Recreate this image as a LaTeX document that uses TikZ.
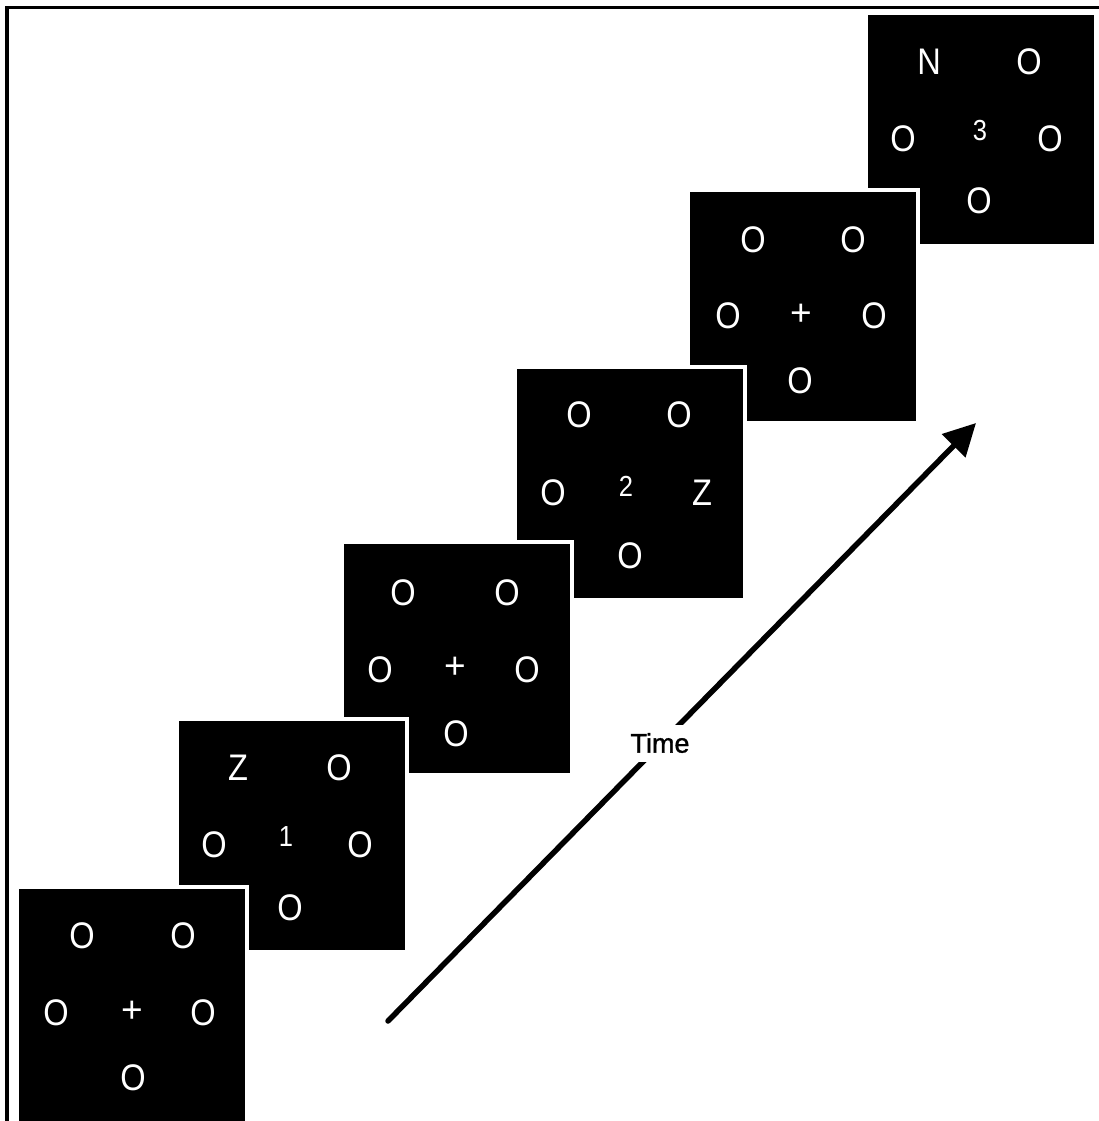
\documentclass[tikz,border=0pt]{standalone}
\usepackage{fontspec}
\setmainfont{Liberation Sans}
\newfontfamily\narrowsans[FakeStretch=0.88]{Liberation Sans}
\newfontfamily\boldishsans[FakeBold=1.2]{Liberation Sans}
\usetikzlibrary{arrows.meta}
\tikzset{
  panel/.style={fill=black, draw=white, line width=4pt, minimum width=230pt, minimum height=233pt,
    anchor=north west, inner sep=0pt, outer sep=0pt},
  letter/.style={text=white, font=\narrowsans\fontsize{37}{37}\selectfont, inner sep=0pt},
  plus/.style={text=white, font=\fontsize{37}{37}\selectfont, inner sep=0pt},
  digit/.style={text=white, font=\narrowsans\fontsize{29}{29}\selectfont, inner sep=0pt},
  timearrow/.style={line width=5.5pt, line cap=round, -{Triangle[length=32pt,width=32pt]}},
  timelabel/.style={fill=white, font=\boldishsans\fontsize{27}{27}\selectfont, minimum height=37pt, inner xsep=3pt, inner ysep=0pt},
  frameline/.style={line width=3.5pt}
}
\begin{document}
\begin{tikzpicture}[x=1pt,y=-1pt]
\useasboundingbox (0,0) rectangle (1099,1121);
% frame
\coordinate (fbl) at (7,1125);
\coordinate (ftl) at (7,7.5);
\coordinate (ftr) at (1099,7.5);
\draw[frameline] (fbl) -- (ftl) -- (ftr);

% panel 6
\node[panel] (p6) at (866,13) {};
\node[letter] (p6tl) at (929,62) {N};
\node[letter] (p6tr) at (1029,62) {O};
\node[letter] (p6l) at (903,139) {O};
\node[digit] (p6c) at (980,131) {3};
\node[letter] (p6r) at (1050,139) {O};
\node[letter] (p6b) at (979,201) {O};

% panel 5
\node[panel] (p5) at (688,190) {};
\node[letter] (p5tl) at (753,240) {O};
\node[letter] (p5tr) at (853,240) {O};
\node[letter] (p5l) at (728,316) {O};
\node[plus] (p5c) at (801,315) {+};
\node[letter] (p5r) at (874,316) {O};
\node[letter] (p5b) at (800,381) {O};

% panel 4
\node[panel] (p4) at (515,367) {};
\node[letter] (p4tl) at (579,415) {O};
\node[letter] (p4tr) at (679,415) {O};
\node[letter] (p4l) at (553,493) {O};
\node[digit] (p4c) at (626,486) {2};
\node[letter] (p4r) at (702,493) {Z};
\node[letter] (p4b) at (630,556) {O};

% panel 3
\node[panel] (p3) at (342,542) {};
\node[letter] (p3tl) at (403,593) {O};
\node[letter] (p3tr) at (507,593) {O};
\node[letter] (p3l) at (380,670) {O};
\node[plus] (p3c) at (455,668) {+};
\node[letter] (p3r) at (527,670) {O};
\node[letter] (p3b) at (456,734) {O};

% panel 2
\node[panel] (p2) at (177,719) {};
\node[letter] (p2tl) at (238,768) {Z};
\node[letter] (p2tr) at (339,768) {O};
\node[letter] (p2l) at (214,845) {O};
\node[digit] (p2c) at (286,837) {1};
\node[letter] (p2r) at (360,845) {O};
\node[letter] (p2b) at (290,908) {O};

% panel 1
\node[panel, minimum height=245pt] (p1) at (17,887) {};
\node[letter] (p1tl) at (82,936) {O};
\node[letter] (p1tr) at (183,936) {O};
\node[letter] (p1l) at (56,1013) {O};
\node[plus] (p1c) at (132,1012) {+};
\node[letter] (p1r) at (203,1013) {O};
\node[letter] (p1b) at (133,1078) {O};

% time arrow
\coordinate (tstart) at (388,1021);
\coordinate (tend) at (976,423);
\draw[timearrow] (tstart) -- (tend);
\node[timelabel] (time) at (660,743) {Time};
\end{tikzpicture}
\end{document}
